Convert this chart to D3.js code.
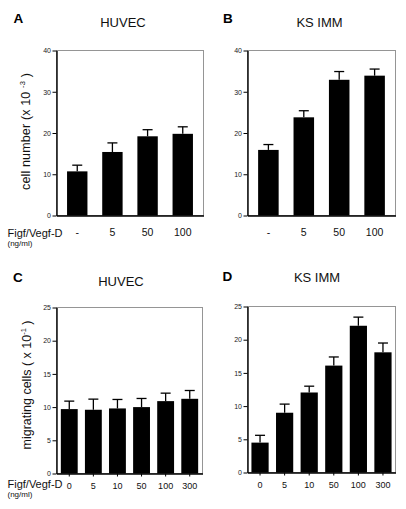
<!DOCTYPE html>
<html>
<head>
<meta charset="utf-8">
<script src="https://cdn.jsdelivr.net/npm/d3@7"></script>
<style>
  html, body { margin: 0; padding: 0; background: #fff; }
  svg { display: block; font-family: "Liberation Sans", Arial, Helvetica, sans-serif; }
</style>
</head>
<body>
<svg id="chart" width="406" height="509"></svg>
<script>
// ---- Data ----
const prolifDoses = ["-", "5", "50", "100"];
const migrDoses = ["0", "5", "10", "50", "100", "300"];

const huvecProlifMean = [10.7, 15.4, 19.2, 19.8];
const huvecProlifErr  = [1.5, 2.2, 1.6, 1.7];
const ksProlifMean    = [15.9, 23.8, 32.9, 33.9];
const ksProlifErr     = [1.3, 1.6, 2.0, 1.6];

const huvecMigrMean = [9.7, 9.6, 9.8, 10.0, 10.9, 11.25];
const huvecMigrErr  = [1.2, 1.6, 1.35, 1.3, 1.2, 1.25];
const ksMigrMean    = [4.5, 9.0, 12.05, 16.1, 22.1, 18.1];
const ksMigrErr     = [1.1, 1.3, 0.95, 1.3, 1.3, 1.4];

const prolifTicks = [0, 10, 20, 30, 40];
const migrTicks = [0, 5, 10, 15, 20, 25];

const svg = d3.select("#chart");

function panel(cfg) {
  const g = svg.append("g");
  const x = d3.scaleBand().domain(cfg.cats).range([cfg.x0, cfg.x1])
    .paddingInner(cfg.pi).paddingOuter(cfg.po);
  const y = d3.scaleLinear().domain([0, cfg.ymax]).range([cfg.y1, cfg.y0]);

  g.append("rect").attr("x", cfg.x0).attr("y", cfg.y0)
    .attr("width", cfg.x1 - cfg.x0).attr("height", cfg.y1 - cfg.y0)
    .attr("fill", "none").attr("stroke", "#8a8a8a").attr("stroke-width", 0.9);

  const data = cfg.cats.map((c, i) => ({c, m: cfg.mean[i], e: cfg.err[i]}));
  g.selectAll("rect.bar").data(data).join("rect").attr("class", "bar")
    .attr("x", d => x(d.c)).attr("width", x.bandwidth())
    .attr("y", d => y(d.m)).attr("height", d => y(0) - y(d.m))
    .attr("fill", "#000");

  const cap = 5;
  g.selectAll("line.err").data(data).join("line").attr("class", "err")
    .attr("x1", d => x(d.c) + x.bandwidth() / 2).attr("x2", d => x(d.c) + x.bandwidth() / 2)
    .attr("y1", d => y(d.m)).attr("y2", d => y(d.m + d.e))
    .attr("stroke", "#000").attr("stroke-width", 1.3);
  g.selectAll("line.cap").data(data).join("line").attr("class", "cap")
    .attr("x1", d => x(d.c) + x.bandwidth() / 2 - cap).attr("x2", d => x(d.c) + x.bandwidth() / 2 + cap)
    .attr("y1", d => y(d.m + d.e)).attr("y2", d => y(d.m + d.e))
    .attr("stroke", "#000").attr("stroke-width", 1.3);

  const ya = g.append("g").attr("transform", `translate(${cfg.x0},0)`)
    .call(d3.axisLeft(y).tickValues(cfg.ticks).tickSize(4).tickPadding(1.5).tickSizeOuter(0));
  ya.select(".domain").attr("stroke", "#000").attr("stroke-width", 1.4);
  ya.selectAll(".tick line").attr("stroke", "#000").attr("stroke-width", 1);
  ya.selectAll(".tick text").attr("font-size", 7).attr("fill", "#222")
    .attr("font-family", "'Liberation Sans Narrow', 'Liberation Sans', Arial, sans-serif");

  const xa = g.append("g").attr("transform", `translate(0,${cfg.y1})`)
    .call(d3.axisBottom(x).tickSize(cfg.xTick).tickPadding(cfg.xPad).tickSizeOuter(0));
  xa.select(".domain").attr("stroke", "#000").attr("stroke-width", 1.4);
  xa.selectAll(".tick line").attr("stroke", "#000").attr("stroke-width", 1);
  xa.selectAll(".tick text").attr("font-size", cfg.xFont).attr("fill", "#111")
    .attr("font-family", "'Liberation Sans', Arial, sans-serif");

  g.append("text").attr("x", cfg.lx).attr("y", cfg.ly).text(cfg.letter)
    .attr("font-size", 13.5).attr("font-weight", "bold").attr("fill", "#000");
  g.append("text").attr("x", cfg.tx).attr("y", cfg.ty).text(cfg.title)
    .attr("text-anchor", "middle").attr("font-size", 13).attr("fill", "#111");

  return g;
}

panel({cats: prolifDoses, mean: huvecProlifMean, err: huvecProlifErr, ymax: 40, ticks: prolifTicks,
  x0: 56.5, x1: 203.5, y0: 50.5, y1: 215.5, pi: 0.42, po: 0.3,
  xTick: 0, xPad: 13.5, xFont: 10.5,
  letter: "A", lx: 13.5, ly: 22.7, title: "HUVEC", tx: 123, ty: 26.7});
panel({cats: prolifDoses, mean: ksProlifMean, err: ksProlifErr, ymax: 40, ticks: prolifTicks,
  x0: 247.5, x1: 395.5, y0: 50.5, y1: 215.5, pi: 0.42, po: 0.3,
  xTick: 0, xPad: 13.5, xFont: 10.5,
  letter: "B", lx: 223, ly: 22.7, title: "KS IMM", tx: 319.5, ty: 26.5});
panel({cats: migrDoses, mean: huvecMigrMean, err: huvecMigrErr, ymax: 25, ticks: migrTicks,
  x0: 56.5, x1: 202.5, y0: 307.5, y1: 473.5, pi: 0.3, po: 0.18,
  xTick: 3, xPad: 6, xFont: 9,
  letter: "C", lx: 13, ly: 281.7, title: "HUVEC", tx: 121, ty: 286});
panel({cats: migrDoses, mean: ksMigrMean, err: ksMigrErr, ymax: 25, ticks: migrTicks,
  x0: 247.5, x1: 395.5, y0: 306.5, y1: 472.5, pi: 0.3, po: 0.16,
  xTick: 3, xPad: 6, xFont: 9,
  letter: "D", lx: 222.5, ly: 280.7, title: "KS IMM", tx: 317, ty: 282.3});

function caption(yBase) {
  svg.append("text").attr("x", 7.5).attr("y", yBase).text("Figf/Vegf-D")
    .attr("font-size", 11).attr("fill", "#111");
  svg.append("text").attr("x", 7.5).attr("y", yBase + 9).text("(ng/ml)")
    .attr("font-size", 8).attr("fill", "#111");
}
caption(237);
caption(488.3);

function ytitle(x, y, main, sup, len) {
  const t = svg.append("text").attr("transform", `translate(${x},${y}) rotate(-90)`)
    .attr("text-anchor", "middle").attr("font-size", 12.5).attr("fill", "#111");
  t.append("tspan").text(main);
  t.append("tspan").attr("font-size", 7.5).attr("dy", -5).text(sup);
  t.append("tspan").attr("dy", 5).text(" )");
  const cur = t.node().getComputedTextLength();
  const nChars = (main + sup + " )").length;
  if (cur < len) t.attr("letter-spacing", (len - cur) / nChars);
}
ytitle(30, 131.5, "cell number (x 10 ", "-3", 117);
ytitle(30.5, 385, "migrating cells ( x 10", "-1", 117);
</script>
</body>
</html>
